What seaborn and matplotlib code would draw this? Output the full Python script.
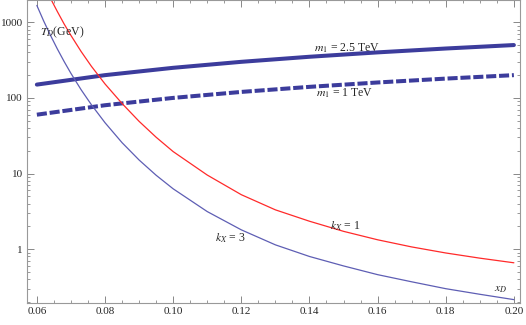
import numpy as np
import pandas as pd
import seaborn as sns
import matplotlib.pyplot as plt
from matplotlib.ticker import FixedLocator, LogLocator, NullFormatter, FormatStrFormatter

# values (T_D in GeV against x_D)
x_m1 = [0.06, 0.08, 0.10, 0.12, 0.14, 0.16, 0.18, 0.20]
t_m25 = [150, 200, 250, 300, 350, 400, 450, 500]
t_m1 = [60, 80, 100, 120, 140, 160, 180, 200]

x_k = [0.060, 0.062, 0.064, 0.066, 0.068, 0.070, 0.073, 0.076, 0.080,
       0.085, 0.090, 0.095, 0.100, 0.110, 0.120, 0.130, 0.140, 0.150,
       0.160, 0.170, 0.180, 0.190, 0.200]
t_k1 = [5200, 3180, 2070, 1390, 950, 670, 410, 262, 153,
        84.4, 49.0, 30.2, 19.5, 9.55, 5.25, 3.31, 2.34, 1.72,
        1.33, 1.07, 0.89, 0.76, 0.66]
t_k3 = [1670, 1040, 671, 445, 303, 211, 128, 81.3, 47.0,
        25.6, 15.1, 9.49, 6.28, 3.14, 1.80, 1.14, 0.80, 0.60,
        0.46, 0.37, 0.30, 0.253, 0.215]

x_ticks = [0.06, 0.08, 0.10, 0.12, 0.14, 0.16, 0.18, 0.20]
y_ticks = [1, 10, 100, 1000]
y_labels = ["1", "10", "100", "1000"]

sns.set_style("ticks")
plt.rcParams["font.family"] = ["Liberation Serif", "DejaVu Serif"]
plt.rcParams["mathtext.fontset"] = "stix"

fig = plt.figure(figsize=(5.26, 3.25), dpi=100)
ax = fig.add_axes([0.0513, 0.0677, 0.9373, 0.931])

thick = "#3c3c9c"
sns.lineplot(x=x_m1, y=t_m25, color=thick, linewidth=2.9, ax=ax)
sns.lineplot(x=x_m1, y=t_m1, color=thick, linewidth=2.9, ax=ax)
ax.lines[-1].set_dashes((2.5, 0.7))
sns.lineplot(x=x_k, y=t_k1, color="#ff2a2a", linewidth=0.9, ax=ax)
sns.lineplot(x=x_k, y=t_k3, color="#5e5eb4", linewidth=0.9, ax=ax)

ax.set_yscale("log")
ax.set_xlim(0.0571, 0.2018)
ax.set_ylim(0.194, 1946)

ax.xaxis.set_major_locator(FixedLocator(x_ticks))
ax.xaxis.set_minor_locator(FixedLocator(np.arange(0.06, 0.2001, 0.005)))
ax.xaxis.set_major_formatter(FormatStrFormatter("%.2f"))
ax.yaxis.set_major_locator(FixedLocator(y_ticks))
ax.yaxis.set_minor_locator(LogLocator(base=10, subs=np.arange(2, 10)))
ax.yaxis.set_minor_formatter(NullFormatter())
ax.set_yticklabels(y_labels)

for s in ax.spines.values():
    s.set_color("#999999")
    s.set_linewidth(0.8)
ax.tick_params(which="both", direction="in", top=True, right=True,
               color="#888888", labelsize=8, pad=3)
ax.tick_params(which="major", length=5, width=0.7)
ax.tick_params(which="minor", length=2.5, width=0.6)
ax.set_xlabel("")
ax.set_ylabel("")

fs = 8.5
ax.text(0.0609, 735, r"$T_D$(GeV)", fontsize=fs, va="center")
ax.text(0.1413, 452, r"$m_1$ = 2.5 TeV", fontsize=fs, va="center")
ax.text(0.1419, 115, r"$m_1$ = 1 TeV", fontsize=fs, va="center")
ax.text(0.146, 2.0, r"$k_X$ = 1", fontsize=fs, va="center")
ax.text(0.1122, 1.40, r"$k_X$ = 3", fontsize=fs, va="center")
ax.text(0.1941, 0.296, r"$x_D$", fontsize=fs, va="center")

fig.savefig("out.png", dpi=100)
